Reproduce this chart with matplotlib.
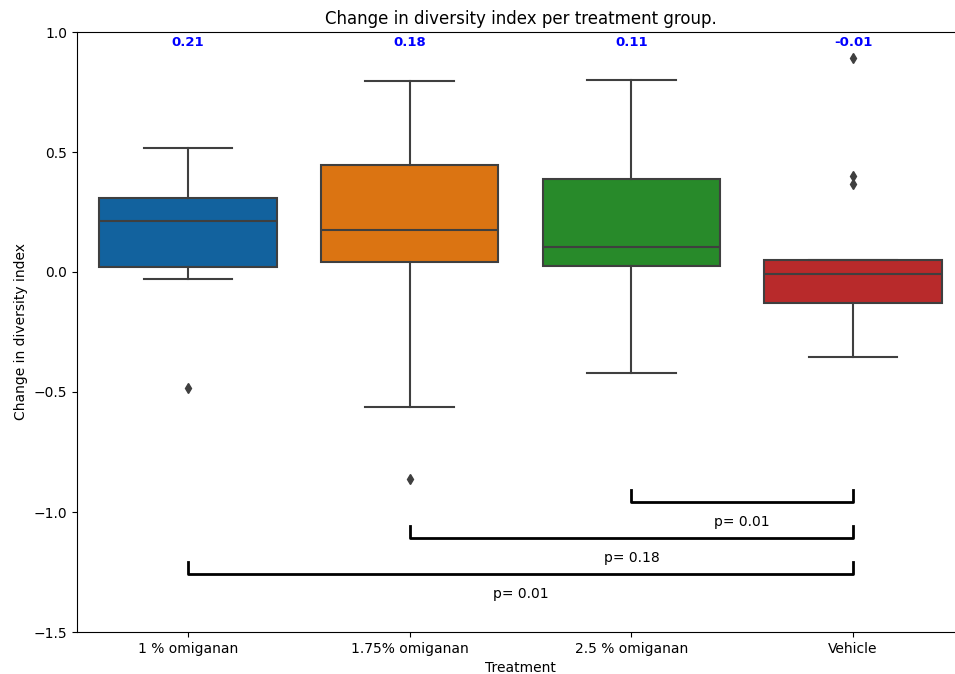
import matplotlib
matplotlib.use("Agg")
import matplotlib.pyplot as plt

# ---- data ----
categories = ["1 % omiganan", "1.75% omiganan", "2.5 % omiganan", "Vehicle"]
q1 = [0.022, 0.043, 0.026, -0.130]
medians = [0.212, 0.175, 0.105, -0.008]
q3 = [0.307, 0.446, 0.388, 0.050]
whisker_low = [-0.030, -0.561, -0.422, -0.353]
whisker_high = [0.515, 0.797, 0.800, 0.050]
outliers = [[-0.482], [-0.862], [], [0.890, 0.400, 0.367]]
median_labels = ["0.21", "0.18", "0.11", "-0.01"]

# comparisons (index pairs) and p-values
comparisons = [(2, 3), (1, 3), (0, 3)]
p_labels = ["p= 0.01", "p= 0.18", "p= 0.01"]
bracket_levels = [-0.96, -1.11, -1.26]

colors = ["#12629e", "#db7412", "#288a2a", "#b82a2b"]
edge = "#3f3f3f"

fig = plt.figure(figsize=(9.55, 6.74), dpi=100)
W, H = 955, 674
ax = fig.add_axes([77 / W, (H - 632) / H, 887 / W, 600 / H])

stats = []
for i in range(len(categories)):
    stats.append(dict(med=medians[i], q1=q1[i], q3=q3[i],
                      whislo=whisker_low[i], whishi=whisker_high[i],
                      fliers=outliers[i], label=categories[i]))

positions = list(range(len(categories)))
bp = ax.bxp(stats, positions=positions, widths=0.8, patch_artist=True,
            showfliers=True,
            boxprops=dict(edgecolor=edge, linewidth=1.5),
            medianprops=dict(color=edge, linewidth=1.5),
            whiskerprops=dict(color=edge, linewidth=1.5),
            capprops=dict(color=edge, linewidth=1.5),
            flierprops=dict(marker="d", markerfacecolor=edge,
                            markeredgecolor=edge, markersize=5))
for patch, c in zip(bp["boxes"], colors):
    patch.set_facecolor(c)
for i, cap in enumerate(bp["caps"]):
    pos = positions[i // 2]
    cap.set_xdata([pos - 0.2, pos + 0.2])

ax.set_xlim(-0.5, len(categories) - 0.5)
ax.set_ylim(-1.5, 1.0)
ax.set_yticks([-1.5, -1.0, -0.5, 0.0, 0.5, 1.0])
ax.set_xticks(positions)
ax.set_xticklabels(categories, fontsize=10)
ax.tick_params(axis="y", labelsize=10)

# median labels
for i, lab in enumerate(median_labels):
    ax.text(positions[i], 0.94, lab, ha="center", va="baseline",
            color="blue", fontweight="bold", fontsize=9.5)

# significance brackets
tick_h = 0.05
for (a, b), lvl, lab in zip(comparisons, bracket_levels, p_labels):
    ax.plot([a, a, b, b], [lvl + tick_h, lvl, lvl, lvl + tick_h],
            color="black", linewidth=2)
    ax.text((a + b) / 2, lvl - 0.08, lab, ha="center", va="center",
            fontsize=10)

ax.set_title("Change in diversity index per treatment group.", fontsize=12)
ax.set_xlabel("Treatment", fontsize=10)
ax.set_ylabel("Change in diversity index", fontsize=10)

fig.savefig("out.png", dpi=100)
